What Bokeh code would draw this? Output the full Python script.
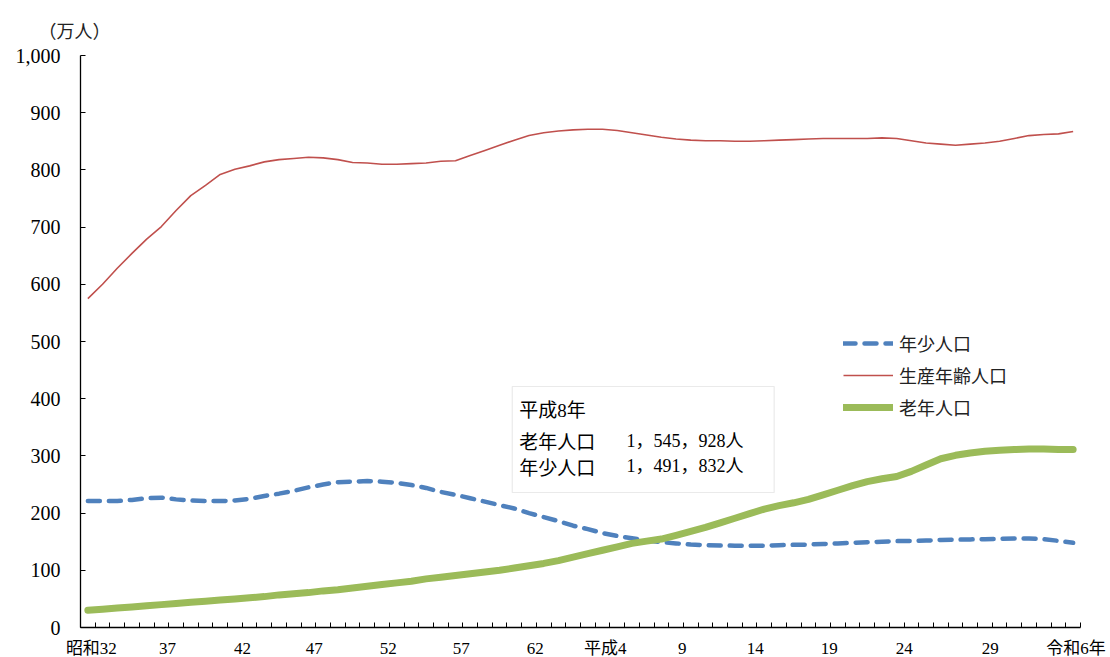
from bokeh.plotting import figure
from bokeh.models import Range1d, FixedTicker, NumeralTickFormatter, Legend, LegendItem, BoxAnnotation, Label, Title
from bokeh.embed import file_html
from bokeh.resources import INLINE

years = list(range(1957, 2025))

tick_pos = [1957.24, 1962.41, 1967.51, 1972.40, 1977.43, 1982.39, 1987.43,
            1992.19, 1997.42, 2002.38, 2007.41, 2012.51, 2018.36, 2024.2]
tick_labels = ["昭和32", "37", "42", "47", "52", "57", "62",
               "平成4", "9", "14", "19", "24", "29", "令和6年"]

youth = [221, 221, 221, 223, 226, 227, 224, 222, 221, 221,
         222, 225, 230, 234, 239, 245, 250, 254, 255, 256,
         255, 253, 249, 244, 237, 232, 226, 220, 214, 208,
         200, 193, 186, 178, 172, 165, 160, 156, 152, 149.2,
         147, 145, 144, 143.5, 143, 143, 143, 144, 144.5, 145,
         146, 147, 148, 149, 150, 151, 151.5, 152, 153, 153.5,
         154, 154.5, 155, 155.5, 155.5, 154.5, 151.5, 148]

working = [575, 600, 628, 654, 679, 701, 729, 755, 773, 792,
           801, 807, 814, 818, 820, 822, 821, 818, 813, 812,
           810, 810, 811, 812, 815, 816, 825, 834, 843, 852,
           860, 865, 868, 870, 871, 871, 869, 865, 861, 857,
           854, 852, 851, 851, 850, 850, 851, 852, 853, 854,
           855, 855, 855, 855, 856, 855, 851, 847, 845, 843,
           845, 847, 850, 855, 860, 862, 863, 867]

elderly = [30, 32, 34, 36, 38, 40, 42, 44, 46, 48,
           50, 52, 54, 57, 59, 61, 64, 66, 69, 72,
           75, 78, 81, 85, 88, 91, 94, 97, 100, 104,
           108, 112, 117, 123, 129, 135, 141, 147, 151, 154.6,
           161, 168, 175, 183, 191, 199, 207, 213, 218, 224,
           232, 240, 248, 255, 260, 264, 273, 284, 295, 301,
           305, 308, 310, 311, 312, 312, 311, 311]

series_names = ["年少人口", "生産年齢人口", "老年人口"]
note_title = "平成8年"
note_rows = [("老年人口", "1，545，928人"), ("年少人口", "1，491，832人")]
unit_label = "（万人）"

FONT = "'Liberation Serif', 'Noto Sans CJK JP'"
CJK = "'Noto Sans CJK JP'"

p = figure(frame_width=1000, frame_height=572, output_backend="svg", toolbar_location=None,
           x_range=Range1d(1956.5, 2024.5), y_range=Range1d(0, 1000),
           min_border_left=80, min_border_top=55, min_border_bottom=30, min_border_right=30)
p.outline_line_color = None
p.xgrid.visible = False
p.ygrid.visible = False
p.background_fill_color = "white"

p.add_layout(Title(text=unit_label, align="left", offset=-42, standoff=26,
                   text_font=CJK, text_font_size="18px", text_font_style="normal",
                   text_color="#222222"), "above")

# x axis
p.xaxis.ticker = FixedTicker(ticks=tick_pos, minor_ticks=[y - 0.5 for y in years] + [2024.5])
p.xaxis.major_label_overrides = {t: l for t, l in zip(tick_pos, tick_labels)}
p.xaxis.major_tick_in = 0
p.xaxis.major_tick_out = 0
p.xaxis.minor_tick_in = 5
p.xaxis.minor_tick_out = 0
p.xaxis.minor_tick_line_color = "black"
p.xaxis.axis_line_color = "black"
p.xaxis.axis_line_width = 1.5
p.xaxis.major_label_text_font = FONT
p.xaxis.major_label_text_font_size = "17px"
p.xaxis.major_label_text_color = "black"
p.xaxis.major_label_standoff = 11

# y axis
p.yaxis.ticker = FixedTicker(ticks=list(range(0, 1001, 100)), minor_ticks=[])
p.yaxis.formatter = NumeralTickFormatter(format="0,0")
p.yaxis.major_tick_in = 5
p.yaxis.major_tick_out = 0
p.yaxis.major_tick_line_color = "black"
p.yaxis.axis_line_color = "black"
p.yaxis.axis_line_width = 1.3
p.yaxis.major_label_text_font = FONT
p.yaxis.major_label_text_font_size = "20px"
p.yaxis.major_label_text_color = "black"
p.yaxis.major_label_standoff = 20

r_y = p.line(years, youth, line_color="#4F81BD", line_width=4.5, line_dash="12 9",
             line_cap="round", line_join="round")
r_w = p.line(years, working, line_color="#C0504D", line_width=1.6, line_join="round")
r_e = p.line(years, elderly, line_color="#9BBB59", line_width=7, line_cap="round",
             line_join="round")

legend = Legend(items=[LegendItem(label=series_names[0], renderers=[r_y]),
                       LegendItem(label=series_names[1], renderers=[r_w]),
                       LegendItem(label=series_names[2], renderers=[r_e])],
                location=(763, 207), orientation="vertical")
legend.glyph_width = 50
legend.glyph_height = 20
legend.label_height = 20
legend.spacing = 6
legend.padding = 0
legend.margin = 0
legend.label_standoff = 6
legend.label_text_font = CJK
legend.label_text_font_size = "18px"
legend.label_text_color = "#222222"
legend.border_line_color = None
legend.background_fill_alpha = 0
p.add_layout(legend, "center")

box = BoxAnnotation(left=1985.86, right=2003.67, bottom=236, top=421.3,
                    fill_color="white", fill_alpha=1, line_color="#BBBBBB", line_width=1.2)
p.add_layout(box)

p.add_layout(Label(x=1986.34, y=379.4, text=note_title, text_font=FONT,
                   text_font_size="19px", text_baseline="middle", text_color="black"))
row_y = [326.9, 281.5]
for (name, num), yy in zip(note_rows, row_y):
    p.add_layout(Label(x=1986.34, y=yy, text=name, text_font=CJK, text_font_size="19px",
                       text_baseline="middle", text_color="black"))
    p.add_layout(Label(x=1993.63, y=yy, text=num, text_font=FONT, text_font_size="18px",
                       text_baseline="middle", text_color="black"))

open("out.html", "w").write(file_html(p, INLINE))
